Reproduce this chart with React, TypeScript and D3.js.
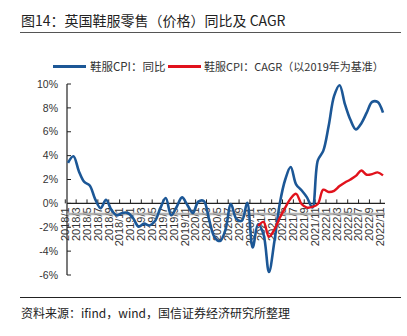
import React from "react";
import * as d3 from "d3";

const categories: string[] = [
  "2018/1","2018/2","2018/3","2018/4","2018/5","2018/6","2018/7","2018/8","2018/9","2018/10","2018/11","2018/12",
  "2019/1","2019/2","2019/3","2019/4","2019/5","2019/6","2019/7","2019/8","2019/9","2019/10","2019/11","2019/12",
  "2020/1","2020/2","2020/3","2020/4","2020/5","2020/6","2020/7","2020/8","2020/9","2020/10","2020/11","2020/12",
  "2021/1","2021/2","2021/3","2021/4","2021/5","2021/6","2021/7","2021/8","2021/9","2021/10","2021/11","2021/12",
  "2022/1","2022/2","2022/3","2022/4","2022/5","2022/6","2022/7","2022/8","2022/9","2022/10","2022/11",
];

// 鞋服CPI：同比 (%)
const yoy: number[] = [
  3.4, 3.95, 2.7, 1.8, 1.5, 0.35, -0.4, 0.3, -0.55, -1.0,
  -0.8, -0.8, -1.25, -1.95, -1.7, -1.85, -1.5, -0.4, 0.45, -1.0,
  -0.3, 0.5, -0.15, -0.8, 0.15, 0.2, -1.4, -2.85, -3.15, -2.2,
  -0.05, -1.3, -1.45, 0.05, -3.7, -1.75, -2.6, -5.75, -3.2, 0.0,
  2.0, 3.05, 1.6, 1.1, 0.5, -0.35, 3.6, 4.4, 6.5, 9.0,
  9.9, 8.3, 7.0, 6.2, 6.7, 7.6, 8.5, 8.5, 7.6,
];

// 鞋服CPI：CAGR（以2019年为基准）(%), starting at 2020/12
const cagrStart = "2020/12";
const cagr: number[] = [
  -1.9, -1.55, -2.8, -2.2, -1.2, -0.35, 0.4, 0.8, -0.05, -0.35,
  -0.3, -0.05, 1.15, 0.95, 1.05, 1.45, 1.75, 2.0, 2.3, 2.75,
  2.4, 2.45, 2.6, 2.35,
];

const yTicks: number[] = [10, 8, 6, 4, 2, 0, -2, -4, -6];

const title = "图14：英国鞋服零售（价格）同比及 CAGR";
const source = "资料来源：ifind，wind，国信证券经济研究所整理";
const legendYoy = "鞋服CPI：同比";
const legendCagr = "鞋服CPI：CAGR（以2019年为基准）";

const BLUE = "#1c5796";
const RED = "#e1121c";
const CJK = "'Noto Sans CJK SC', 'Noto Sans', sans-serif";
const LAT = "'Liberation Sans', Arial, sans-serif";

export default function App() {
  const W = 407, H = 336;
  const x = d3.scalePoint<string>().domain(categories).range([68, 383]);
  const y = d3.scaleLinear().domain([-6, 10]).range([275, 84]);
  const step = x.step();

  const line = d3
    .line<[string, number]>()
    .x((d) => x(d[0]) as number)
    .y((d) => y(d[1]))
    .curve(d3.curveCatmullRom.alpha(0.5));

  const yoyPts: [string, number][] = yoy.map((v, i) => [categories[i], v]);
  const si = categories.indexOf(cagrStart);
  const cagrPts: [string, number][] = cagr.map((v, i) => [categories[si + i], v]);

  const labelCats = categories.filter((_, i) => i % 2 === 0);
  const x0 = 67;
  const xEnd = 385;
  const zeroY = y(0);

  return (
    <svg
      width={W}
      height={H}
      style={{ position: "absolute", left: 0, top: 0, background: "#fff" }}
    >
      <rect width={W} height={H} fill="#fff" />
      {/* title */}
      <text x={21} y={26} fontFamily={CJK} fontSize={14} fill="#222">
        {title}
      </text>
      <line x1={20} x2={401} y1={32.5} y2={32.5} stroke="#555" strokeWidth={1} />

      {/* legend */}
      <line x1={53} x2={86} y1={66.5} y2={66.5} stroke={BLUE} strokeWidth={3} />
      <text x={90} y={70.5} fontFamily={CJK} fontSize={11.5} fill="#333">
        {legendYoy}
      </text>
      <line x1={168} x2={201} y1={66.5} y2={66.5} stroke={RED} strokeWidth={3} />
      <text x={204} y={70.5} fontFamily={CJK} fontSize={11} fill="#333">
        {legendCagr}
      </text>

      {/* y axis */}
      <line x1={x0} x2={x0} y1={y(10)} y2={y(-6)} stroke="#222" strokeWidth={1.2} />
      {yTicks.map((t) => (
        <g key={t}>
          <line x1={x0} x2={x0 + 4} y1={y(t)} y2={y(t)} stroke="#222" strokeWidth={1} />
          <text
            x={58}
            y={y(t)}
            dy="0.35em"
            textAnchor="end"
            fontFamily={LAT}
            fontSize={10.5}
            fill="#333"
          >
            {`${t}%`}
          </text>
        </g>
      ))}

      {/* x axis at zero */}
      <line x1={x0} x2={xEnd} y1={zeroY} y2={zeroY} stroke="#222" strokeWidth={1.2} />
      {labelCats.map((c) => {
        const tx = (x(c) as number) - step / 2;
        return (
          <g key={c}>
            <line x1={tx} x2={tx} y1={zeroY} y2={zeroY - 4} stroke="#222" strokeWidth={1} />
            <text
              transform={`translate(${tx},${zeroY + 4}) rotate(-90)`}
              dy="0.35em"
              textAnchor="end"
              fontFamily={LAT}
              fontSize={11}
              fill="#333"
            >
              {c}
            </text>
          </g>
        );
      })}
      <line
        x1={x0}
        x2={xEnd}
        y1={zeroY + 10.5}
        y2={zeroY + 10.5}
        stroke="#9a9a9a"
        strokeWidth={2.5}
        opacity={0.75}
      />

      {/* series */}
      <path d={line(yoyPts) ?? ""} fill="none" stroke={BLUE} strokeWidth={2.6} strokeLinejoin="round" />
      <path d={line(cagrPts) ?? ""} fill="none" stroke={RED} strokeWidth={2.4} strokeLinejoin="round" />

      {/* footer */}
      <line x1={20} x2={401} y1={297.5} y2={297.5} stroke="#222" strokeWidth={1} />
      <text x={21} y={318} fontFamily={CJK} fontSize={12} fill="#222">
        {source}
      </text>
    </svg>
  );
}
